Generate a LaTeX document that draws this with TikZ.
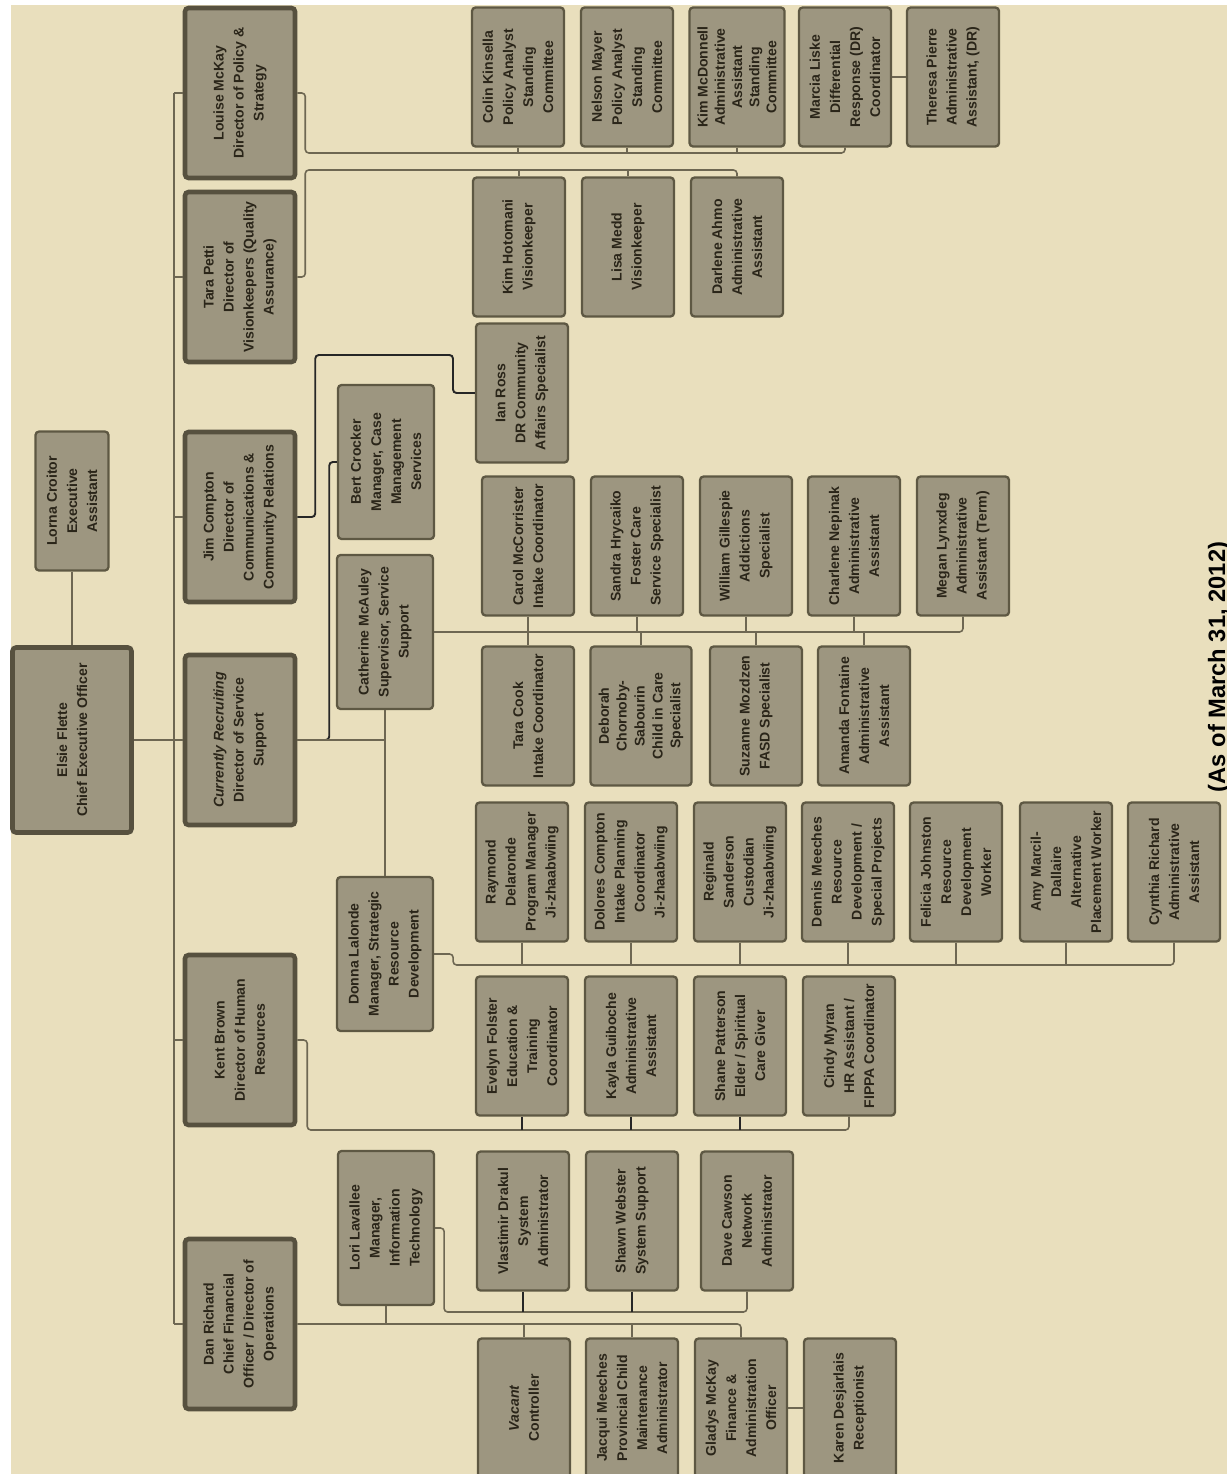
\documentclass[tikz,border=0pt]{standalone}
\usepackage{fontspec}
\setmainfont{Liberation Sans}
\usetikzlibrary{positioning}
\definecolor{paper}{HTML}{E9DFBD}
\definecolor{boxfill}{HTML}{9D9680}
\definecolor{boxline}{HTML}{5E5843}
\definecolor{dirline}{HTML}{57513F}
\definecolor{inkline}{HTML}{6E6752}
\definecolor{inktext}{HTML}{2A2519}

\begin{document}
\begin{tikzpicture}[x=0.02cm, y=-0.02cm, card/.style={rotate=90, draw=boxline, fill=boxfill, rounded corners=2pt, align=center, text=inktext, font=\fontsize{8}{11.4}\selectfont\bfseries, inner sep=1pt}, staff/.style={card, line width=1.3pt, minimum width=2.78cm, minimum height=1.84cm}, mgr/.style={card, line width=1.3pt, minimum width=3.08cm, minimum height=1.92cm}, dir/.style={card, draw=dirline, line width=2.6pt, minimum width=3.4cm, minimum height=2.2cm}, link/.style={draw=inkline, line width=0.9pt, rounded corners=2pt}, darklink/.style={link, draw=black!85, line width=1.1pt}]

\fill[white] (0,0) rectangle (1227,1474);
\fill[paper] (11,5) rectangle (1227,1474);
\useasboundingbox (0,0) rectangle (1227,1474);

% boxes are turned: .north is the left side, .south the right, .east the top, .west the bottom
\node[dir, minimum width=3.7cm, minimum height=2.38cm] (ceo) at (72,740) {Elsie Flette\\Chief Executive Officer};
\node[staff, minimum height=1.46cm] (lorna) at (72,501) {Lorna Croitor\\Executive\\Assistant};

\node[dir] (louise) at (240,93) {Louise McKay\\Director of Policy \&\\Strategy};
\node[dir] (tara) at (240,277) {Tara Petti\\Director of\\Visionkeepers (Quality\\Assurance)};
\node[dir] (jim) at (240,517) {Jim Compton\\Director of\\Communications \&\\Community Relations};
\node[dir] (recruit) at (240,740) {\textit{Currently Recruiting}\\Director of Service\\Support};
\node[dir] (kent) at (240,1040) {Kent Brown\\Director of Human\\Resources};
\node[dir] (dan) at (240,1324) {Dan Richard\\Chief Financial\\Officer / Director of\\Operations};

\node[mgr] (bert) at (386,462) {Bert Crocker\\Manager, Case\\Management\\Services};
\node[mgr] (catherine) at (385,632) {Catherine McAuley\\Supervisor, Service\\Support};
\node[mgr] (donna) at (385,954) {Donna Lalonde\\Manager, Strategic\\Resource\\Development};
\node[mgr] (lori) at (386,1228) {Lori Lavallee\\Manager,\\Information\\Technology};

% policy and strategy
\node[staff] (colin) at (518,77) {Colin Kinsella\\Policy Analyst\\Standing\\Committee};
\node[staff] (nelson) at (627,77) {Nelson Mayer\\Policy Analyst\\Standing\\Committee};
\node[staff, minimum height=1.9cm, font=\fontsize{8}{9.8}\selectfont\bfseries] (kimmc) at (737,77) {Kim McDonnell\\Administrative\\Assistant\\Standing\\Committee};
\node[staff] (marcia) at (845,77) {Marcia Liske\\Differential\\Response (DR)\\Coordinator};
\node[staff] (theresa) at (953,77) {Theresa Pierre\\Administrative\\Assistant, (DR)};

% visionkeepers
\node[staff] (kimh) at (519,247) {Kim Hotomani\\Visionkeeper};
\node[staff] (lisa) at (628,247) {Lisa Medd\\Visionkeeper};
\node[staff] (darlene) at (737,247) {Darlene Ahmo\\Administrative\\Assistant};
\node[staff] (ian) at (522,393) {Ian Ross\\DR Community\\Affairs Specialist};

% service support
\node[staff] (carol) at (528,546) {Carol McCorrister\\Intake Coordinator};
\node[staff] (sandra) at (637,546) {Sandra Hrycaiko\\Foster Care\\Service Specialist};
\node[staff] (william) at (746,546) {William Gillespie\\Addictions\\Specialist};
\node[staff] (charlene) at (854,546) {Charlene Nepinak\\Administrative\\Assistant};
\node[staff] (megan) at (963,546) {Megan Lynxdeg\\Administrative\\Assistant (Term)};
\node[staff] (taracook) at (528,716) {Tara Cook\\Intake Coordinator};
\node[staff, minimum height=2.02cm, font=\fontsize{8}{10.2}\selectfont\bfseries] (deborah) at (641,716) {Deborah\\Chornoby-\\Sabourin\\Child in Care\\Specialist};
\node[staff] (suzanne) at (756,716) {Suzanne Mozdzen\\FASD Specialist};
\node[staff] (amanda) at (864,716) {Amanda Fontaine\\Administrative\\Assistant};

% strategic resource development
\node[staff] (raymond) at (522,872) {Raymond\\Delaronde\\Program Manager\\Ji-zhaabwiing};
\node[staff] (dolores) at (631,872) {Dolores Compton\\Intake Planning\\Coordinator\\Ji-zhaabwiing};
\node[staff] (reginald) at (740,872) {Reginald\\Sanderson\\Custodian\\Ji-zhaabwiing};
\node[staff] (dennis) at (848,872) {Dennis Meeches\\Resource\\Development /\\Special Projects};
\node[staff] (felicia) at (956,872) {Felicia Johnston\\Resource\\Development\\Worker};
\node[staff] (amy) at (1066,872) {Amy Marcil-\\Dallaire\\Alternative\\Placement Worker};
\node[staff] (cynthia) at (1174,872) {Cynthia Richard\\Administrative\\Assistant};

% human resources
\node[staff] (evelyn) at (522,1046) {Evelyn Folster\\Education \&\\Training\\Coordinator};
\node[staff] (kayla) at (631,1046) {Kayla Guiboche\\Administrative\\Assistant};
\node[staff] (shane) at (740,1046) {Shane Patterson\\Elder / Spiritual\\Care Giver};
\node[staff] (cindy) at (849,1046) {Cindy Myran\\HR Assistant /\\FIPPA Coordinator};

% information technology
\node[staff] (vlastimir) at (523,1221) {Vlastimir Drakul\\System\\Administrator};
\node[staff] (shawn) at (632,1221) {Shawn Webster\\System Support};
\node[staff] (dave) at (747,1221) {Dave Cawson\\Network\\Administrator};

% finance
\node[staff] (vacant) at (524,1408) {\textit{Vacant}\\Controller};
\node[staff] (jacqui) at (632,1408) {Jacqui Meeches\\Provincial Child\\Maintenance\\Administrator};
\node[staff] (gladys) at (741,1408) {Gladys McKay\\Finance \&\\Administration\\Officer};
\node[staff] (karen) at (850,1408) {Karen Desjarlais\\Receptionist};

\node[rotate=90, text=black, font=\fontsize{13.5}{16}\selectfont\bfseries] (asof) at (1219,667) {(As of March 31, 2012)};

% connectors
\coordinate (bus) at (174,0);
\draw[link] (louise.north -| bus) -- (dan.north -| bus);
\foreach \d in {louise,tara,jim,recruit,kent,dan} \draw[link] (\d.north) -- (\d.north -| bus);
\draw[link] (ceo.south) -- (ceo.south -| bus);
\draw[link] (lorna.west) -- (lorna.west |- ceo.east);

\coordinate (polbar) at (0,153);
\draw[link] (louise.south) -- ++(8,0) |- (marcia.west |- polbar) -- (marcia.west);
\foreach \s in {colin,nelson,kimmc} \draw[link] (\s.west) -- (\s.west |- polbar);
\draw[link] (marcia.south) -- (theresa.north);

\coordinate (vkbar) at (0,170);
\draw[link] (tara.south) -- ++(8,0) |- (darlene.east |- vkbar) -- (darlene.east);
\foreach \s in {kimh,lisa} \draw[link] (\s.east) -- (\s.east |- vkbar);

\coordinate (drbend) at (453,355);
\draw[darklink] (jim.south) -- ++(18,0) |- (drbend) |- (ian.north);

\draw[darklink] (recruit.south) -- ++(32,0) |- (bert.north);
\draw[link] (recruit.south) -- (recruit.south -| catherine.west);
\draw[link] (catherine.west) -- (donna.east);

\draw[link] (catherine.south) -| (megan.west);
\foreach \s in {carol,sandra,william,charlene} \draw[link] (\s.west) -- (\s.west |- catherine.south);
\foreach \s in {taracook,deborah,suzanne,amanda} \draw[link] (\s.east) -- (\s.east |- catherine.south);

\coordinate (rdbar) at (0,965);
\draw[link] (donna.south) -- ++(19,0) |- (cynthia.west |- rdbar) -- (cynthia.west);
\foreach \s in {raymond,dolores,reginald,dennis,felicia,amy} \draw[link] (\s.west) -- (\s.west |- rdbar);

\coordinate (hrbar) at (0,1130);
\draw[link] (kent.south) -- ++(10,0) |- (cindy.west |- hrbar) -- (cindy.west);
\foreach \s in {evelyn,kayla,shane} \draw[darklink] (\s.west) -- (\s.west |- hrbar);

\coordinate (itbar) at (0,1312);
\draw[link] (lori.south) -- ++(9,0) |- (dave.west |- itbar) -- (dave.west);
\foreach \s in {vlastimir,shawn} \draw[darklink] (\s.west) -- (\s.west |- itbar);

\draw[link] (dan.south) -| (gladys.east);
\foreach \s in {lori.west,vacant.east,jacqui.east} \draw[link] (\s) -- (\s |- dan.south);
\draw[link] (gladys.south) -- (karen.north);

\end{tikzpicture}
\end{document}
